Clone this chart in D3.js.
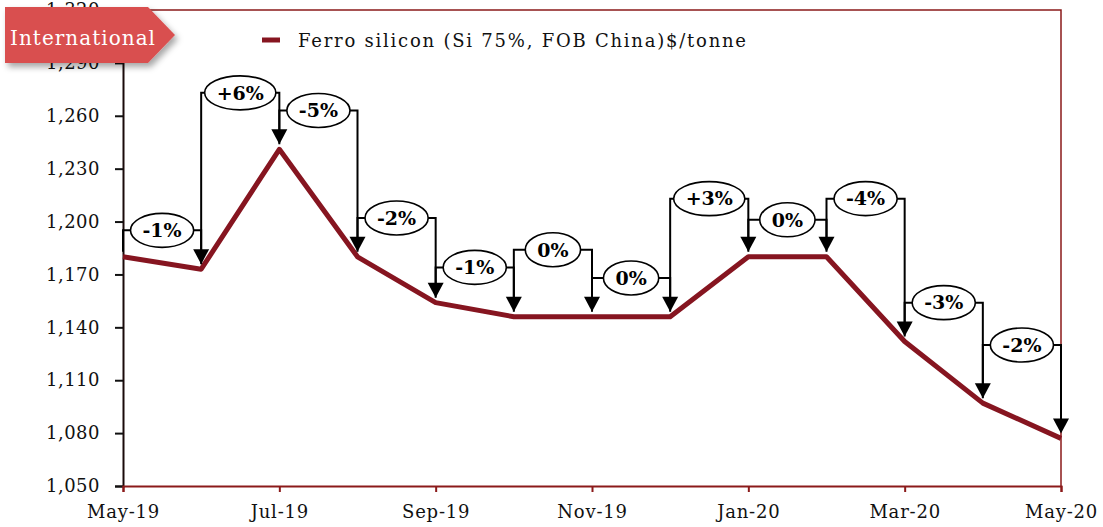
<!DOCTYPE html>
<html>
<head>
<meta charset="utf-8">
<script src="https://cdn.jsdelivr.net/npm/d3@7"></script>
<style>
    body { margin: 0; background: #fff; }
    svg { display: block; font-family: "DejaVu Serif", serif; }
</style>
</head>
<body>
<svg id="chart" width="1103" height="527"></svg>
<script>
var months = ['May-19', 'Jun-19', 'Jul-19', 'Aug-19', 'Sep-19', 'Oct-19', 'Nov-19', 'Dec-19', 'Jan-20', 'Feb-20', 'Mar-20', 'Apr-20', 'May-20'];
var prices = [1180, 1173, 1241, 1180, 1154, 1146, 1146, 1146, 1180, 1180, 1132, 1097, 1077];
// month-on-month change and the price level at which each bubble sits
var changeLabels = ['-1%', '+6%', '-5%', '-2%', '-1%', '0%', '0%', '+3%', '0%', '-4%', '-3%', '-2%'];
var labelLevels = [1195, 1273, 1263, 1202, 1174, 1184, 1168, 1213, 1201, 1213, 1154, 1130];
var yTicks = [1050, 1080, 1110, 1140, 1170, 1200, 1230, 1260, 1290, 1320];
var xTicks = ['May-19', 'Jul-19', 'Sep-19', 'Nov-19', 'Jan-20', 'Mar-20', 'May-20'];
var seriesName = 'Ferro silicon (Si 75%, FOB China)$/tonne';
var badgeText = 'International';

var maroon = '#861520',
    frame = '#8b1a1a',
    plotLeft = 123, plotRight = 1061, plotTop = 10, plotBottom = 486;

var svg = d3.select('#chart');

var x = d3.scalePoint().domain(months).range([plotLeft, plotRight]);
var y = d3.scaleLinear().domain([1050, 1320]).range([plotBottom, plotTop]);

// frame (top + right)
svg.append('path')
    .attr('d', 'M' + plotLeft + ',' + plotTop + 'H' + plotRight + 'V' + plotBottom)
    .attr('fill', 'none').attr('stroke', frame).attr('stroke-width', 1.5);

// y axis
var yAxis = svg.append('g')
    .attr('transform', 'translate(' + plotLeft + ',0)')
    .call(d3.axisLeft(y).tickValues(yTicks).tickSize(8).tickPadding(15).tickFormat(d3.format(',')));
yAxis.select('.domain').attr('stroke', '#1a0a0a').attr('stroke-width', 2);
yAxis.selectAll('.tick line').attr('stroke', '#111').attr('stroke-width', 2);
yAxis.selectAll('.tick text')
    .attr('font-family', '"DejaVu Serif", serif').attr('font-size', 18)
    .attr('fill', '#111').attr('letter-spacing', 0.5);

// x axis
var xAxis = svg.append('g')
    .attr('transform', 'translate(0,' + plotBottom + ')')
    .call(d3.axisBottom(x).tickValues(xTicks).tickSize(6).tickPadding(13));
xAxis.select('.domain').attr('stroke', frame).attr('stroke-width', 2);
xAxis.selectAll('.tick line').attr('stroke', frame).attr('stroke-width', 2);
xAxis.selectAll('.tick text')
    .attr('font-family', '"DejaVu Serif", serif').attr('font-size', 18)
    .attr('fill', '#111').attr('letter-spacing', 0.8);

// price line
var line = d3.line()
    .x(function(d, i) { return x(months[i]); })
    .y(function(d) { return y(d); });

svg.append('path')
    .datum(prices)
    .attr('d', line)
    .attr('fill', 'none')
    .attr('stroke', maroon)
    .attr('stroke-width', 5)
    .attr('stroke-linejoin', 'round');

// change brackets with arrows
var arrowH = 15, arrowW = 8, gap = 5;
var brackets = svg.append('g');

changeLabels.forEach(function(label, k) {
    var i = k + 1,
        x0 = x(months[i - 1]),
        x1 = x(months[i]),
        ly = y(labelLevels[k]),
        prevTip = y(prices[i - 1]) - gap,
        tip = y(prices[i]) - gap;

    brackets.append('path')
        .attr('d', 'M' + x0 + ',' + prevTip + 'V' + ly + 'H' + x1 + 'V' + (tip - arrowH + 1))
        .attr('fill', 'none').attr('stroke', '#000').attr('stroke-width', 2);

    brackets.append('path')
        .attr('d', 'M' + (x1 - arrowW) + ',' + (tip - arrowH) + 'L' + (x1 + arrowW) + ',' + (tip - arrowH) + 'L' + x1 + ',' + tip + 'Z')
        .attr('fill', '#000');
});

var halfStep = x.step() / 2;
changeLabels.forEach(function(label, k) {
    var cx = (x(months[k]) + x(months[k + 1])) / 2,
        cy = y(labelLevels[k]);
    var g = brackets.append('g');
    var ell = g.append('ellipse')
        .attr('cx', cx).attr('cy', cy).attr('ry', 17)
        .attr('fill', '#fff').attr('stroke', '#000').attr('stroke-width', 1.6);
    var t = g.append('text')
        .attr('x', cx).attr('y', cy).attr('dy', '0.36em')
        .attr('text-anchor', 'middle')
        .attr('font-family', '"DejaVu Serif", serif')
        .attr('font-weight', 'bold').attr('font-size', 19)
        .attr('fill', '#000')
        .text(label);
    ell.attr('rx', Math.min(t.node().getComputedTextLength() / 2 + 12, halfStep - 0.5));
});

// legend
svg.append('line')
    .attr('x1', 262).attr('x2', 280).attr('y1', 40).attr('y2', 40)
    .attr('stroke', maroon).attr('stroke-width', 5);
svg.append('text')
    .attr('x', 298).attr('y', 47)
    .attr('font-family', '"DejaVu Serif", serif').attr('font-size', 18)
    .attr('fill', '#111')
    .attr('textLength', 448).attr('lengthAdjust', 'spacing')
    .text(seriesName);

// badge
var defs = svg.append('defs');
var shadow = defs.append('filter').attr('id', 'shadow')
    .attr('x', '-10%').attr('y', '-20%').attr('width', '130%').attr('height', '160%');
shadow.append('feDropShadow')
    .attr('dx', 3).attr('dy', 4).attr('stdDeviation', 3)
    .attr('flood-color', '#000').attr('flood-opacity', 0.35);

svg.append('path')
    .attr('d', 'M5,7H148L175,35L148,63H5Z')
    .attr('fill', '#d94f50')
    .attr('filter', 'url(#shadow)');
svg.append('text')
    .attr('x', 10).attr('y', 45)
    .attr('font-family', '"DejaVu Serif", serif').attr('font-size', 20)
    .attr('fill', '#fff')
    .attr('textLength', 145).attr('lengthAdjust', 'spacing')
    .text(badgeText);
</script>
</body>
</html>
